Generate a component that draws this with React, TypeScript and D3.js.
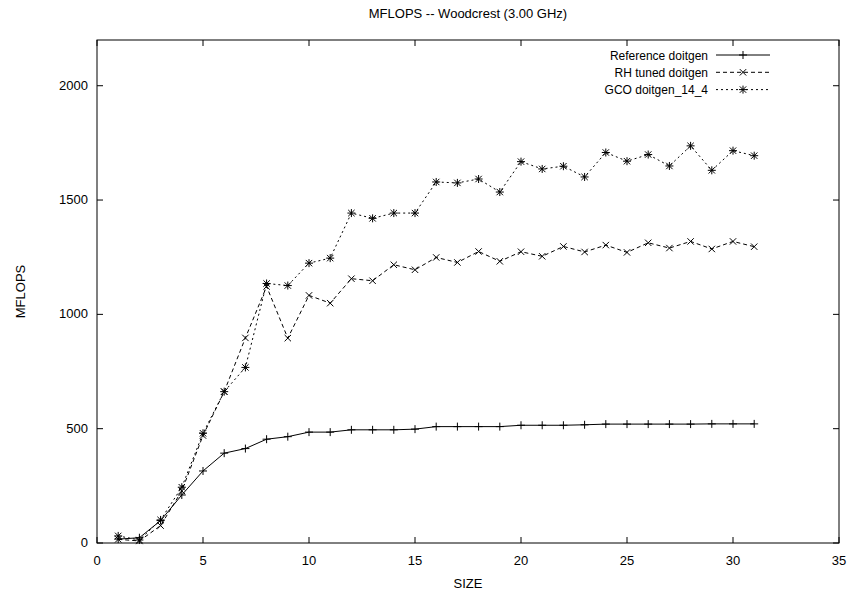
import React from 'react'
import * as d3 from 'd3'

// problem sizes on the x axis
const sizes = [1, 2, 3, 4, 5, 6, 7, 8, 9, 10, 11, 12, 13, 14, 15, 16, 17, 18, 19, 20, 21, 22, 23, 24, 25, 26, 27, 28, 29, 30, 31]

const refDoitgen = [17, 23, 98, 210, 315, 393, 413, 454, 465, 485, 485, 495, 495, 495, 498, 509, 509, 509, 509, 515, 515, 515, 517, 520, 520, 520, 520, 520, 521, 521, 521]
const rhDoitgen = [16, 9, 76, 228, 470, 662, 897, 1122, 896, 1083, 1049, 1156, 1147, 1217, 1195, 1249, 1227, 1275, 1232, 1274, 1254, 1297, 1273, 1303, 1271, 1313, 1290, 1319, 1286, 1319, 1296]
const gcoDoitgen = [31, 13, 101, 244, 480, 662, 768, 1135, 1126, 1224, 1246, 1443, 1420, 1443, 1443, 1579, 1575, 1592, 1535, 1668, 1636, 1648, 1601, 1708, 1670, 1699, 1649, 1737, 1630, 1716, 1694]

const xTicks = [0, 5, 10, 15, 20, 25, 30, 35]
const yTicks = [0, 500, 1000, 1500, 2000]

const W = 853, H = 596
const margin = { left: 97, right: 14, top: 40, bottom: 53 }
const font = '"Liberation Sans", Arial, Helvetica, sans-serif'

type Marker = 'plus' | 'cross' | 'star'

const series: { name: string; values: number[]; dash: string | undefined; marker: Marker }[] = [
  { name: 'Reference doitgen', values: refDoitgen, dash: undefined, marker: 'plus' },
  { name: 'RH tuned doitgen', values: rhDoitgen, dash: '4,3', marker: 'cross' },
  { name: 'GCO doitgen_14_4', values: gcoDoitgen, dash: '2,3', marker: 'star' },
]

function markerPath(kind: Marker, cx: number, cy: number) {
  const p = 4, c = 3.2
  const plus = `M${cx - p},${cy}H${cx + p}M${cx},${cy - p}V${cy + p}`
  const cross = `M${cx - c},${cy - c}L${cx + c},${cy + c}M${cx - c},${cy + c}L${cx + c},${cy - c}`
  if (kind === 'plus') return plus
  if (kind === 'cross') return cross
  return plus + cross
}

export default function App() {
  const x = d3.scaleLinear().domain([0, 35]).range([margin.left, W - margin.right])
  const y = d3.scaleLinear().domain([0, 2200]).range([H - margin.bottom, margin.top])
  const x0 = margin.left, x1 = W - margin.right, y0 = H - margin.bottom, y1 = margin.top

  const line = d3.line<number>().x((_, i) => x(sizes[i])).y(d => y(d))

  return (
    <svg width={W} height={H} style={{ position: 'absolute', left: 0, top: 0, background: '#fff' }}
      fontFamily={font} fontSize={13}>
      <rect width={W} height={H} fill="#fff" />
      <text x={(x0 + x1) / 2} y={18} textAnchor="middle">MFLOPS -- Woodcrest (3.00 GHz)</text>

      {/* ticks, mirrored on all sides */}
      <g stroke="#000" strokeWidth={1}>
        {yTicks.map(t => (
          <g key={'y' + t}>
            <line x1={x0} x2={x0 + 6} y1={y(t)} y2={y(t)} />
            <line x1={x1} x2={x1 - 6} y1={y(t)} y2={y(t)} />
          </g>
        ))}
        {xTicks.map(t => (
          <g key={'x' + t}>
            <line x1={x(t)} x2={x(t)} y1={y0} y2={y0 - 6} />
            <line x1={x(t)} x2={x(t)} y1={y1} y2={y1 + 6} />
          </g>
        ))}
      </g>
      {yTicks.map(t => (
        <text key={'yl' + t} x={x0 - 9} y={y(t) + 4}textAnchor="end">{t}</text>
      ))}
      {xTicks.map(t => (
        <text key={'xl' + t} x={x(t)} y={y0 + 22} textAnchor="middle">{t}</text>
      ))}
      <text x={(x0 + x1) / 2} y={588} textAnchor="middle">SIZE</text>
      <text transform={`translate(25,${(y0 + y1) / 2}) rotate(-90)`} textAnchor="middle">MFLOPS</text>

      {series.map(s => (
        <g key={s.name}>
          <path d={line(s.values) ?? ''} fill="none" stroke="#000" strokeWidth={1} strokeDasharray={s.dash} />
          <path d={s.values.map((v, i) => markerPath(s.marker, x(sizes[i]), y(v))).join('')}
            fill="none" stroke="#000" strokeWidth={1} />
        </g>
      ))}

      {/* legend */}
      {series.map((s, i) => {
        const ly = 55 + i * 17.3
        return (
          <g key={'lg' + s.name}>
            <text x={708} y={ly + 4.5} textAnchor="end" fontSize={12}>{s.name}</text>
            <line x1={716} x2={770} y1={ly} y2={ly} stroke="#000" strokeDasharray={s.dash} />
            <path d={markerPath(s.marker, 743, ly)} stroke="#000" fill="none" />
          </g>
        )
      })}

      <rect x={x0} y={y1} width={x1 - x0} height={y0 - y1} fill="none" stroke="#000" strokeWidth={1} />
    </svg>
  )
}
